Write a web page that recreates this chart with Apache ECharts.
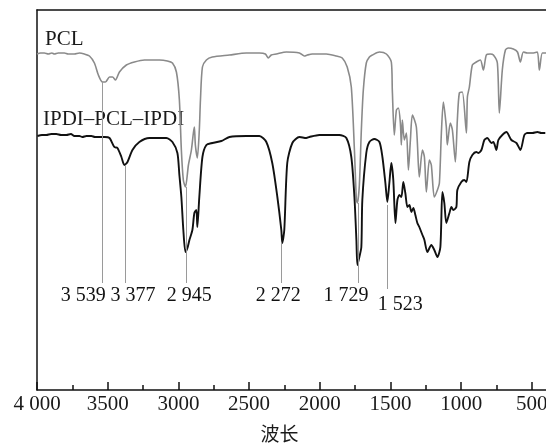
<!DOCTYPE html>
<html><head><meta charset="utf-8">
<script src="https://cdn.jsdelivr.net/npm/echarts@6/dist/echarts.min.js"></script>
<style>html,body{margin:0;padding:0;background:#fff}#c{width:546px;height:446px}</style>
</head><body><div id="c"></div>
<script>
// wavenumber (cm-1), relative transmittance (arbitrary units)
const pclSpectrum = [[4000,336],[3975,337],[3948,337],[3920,336],[3895,337],[3877,336],[3850,337],[3806,337],[3780,336],[3736,336],[3700,337],[3665,336],[3629,334],[3594,327],[3566,315],[3537,308],[3516,308],[3487,313],[3466,313],[3445,310],[3417,318],[3368,325],[3311,328],[3240,330],[3134,330],[3078,329],[3042,327],[3014,318],[2993,290],[2979,240],[2965,210],[2950,203],[2929,225],[2908,240],[2894,257],[2887,263],[2880,245],[2866,232],[2852,260],[2844,290],[2830,323],[2802,330],[2760,333],[2639,335],[2519,337],[2427,337],[2385,336],[2364,332],[2343,335],[2307,336],[2236,338],[2144,337],[2109,334],[2088,335],[2053,336],[1954,336],[1883,334],[1841,332],[1806,323],[1777,303],[1755,240],[1741,190],[1734,187],[1720,205],[1706,260],[1692,300],[1671,327],[1649,333],[1628,335],[1578,338],[1529,336],[1494,328],[1487,300],[1473,255],[1458,280],[1444,282],[1430,267],[1423,245],[1416,270],[1402,250],[1387,257],[1373,220],[1359,250],[1345,275],[1317,263],[1296,213],[1274,240],[1260,233],[1246,198],[1225,230],[1211,225],[1190,193],[1168,200],[1154,207],[1140,257],[1126,288],[1105,263],[1098,245],[1077,267],[1062,260],[1041,228],[1027,270],[1013,297],[992,298],[963,257],[956,293],[942,303],[921,325],[893,328],[864,330],[843,320],[822,335],[794,336],[772,335],[744,327],[730,277],[709,320],[687,340],[666,342],[631,341],[602,338],[581,328],[560,338],[532,337],[489,337],[461,338],[447,320],[426,337],[400,337]];

const ipdiSpectrum = [[3997,254],[3965,255],[3934,255],[3900,256],[3863,256],[3830,255],[3792,255],[3760,256],[3736,254],[3700,254],[3679,253],[3650,254],[3615,254],[3590,253],[3559,253],[3520,253],[3487,252],[3453,243],[3431,242],[3403,233],[3382,225],[3360,228],[3325,240],[3276,248],[3205,252],[3085,252],[3042,248],[3007,237],[2993,215],[2979,193],[2965,160],[2950,138],[2936,142],[2922,150],[2901,160],[2887,177],[2873,180],[2866,163],[2852,193],[2830,233],[2802,245],[2760,247],[2696,249],[2639,253],[2519,254],[2427,254],[2378,248],[2336,227],[2300,193],[2272,160],[2265,147],[2251,160],[2230,227],[2194,247],[2144,253],[2095,252],[2074,253],[2003,255],[1862,255],[1812,252],[1777,233],[1755,193],[1741,150],[1734,125],[1720,133],[1706,143],[1699,190],[1671,237],[1649,248],[1614,251],[1578,248],[1557,233],[1536,207],[1522,188],[1508,207],[1494,227],[1480,210],[1465,167],[1451,190],[1437,195],[1423,193],[1409,208],[1395,197],[1380,183],[1366,185],[1352,178],[1338,182],[1324,175],[1310,167],[1296,163],[1274,155],[1260,150],[1239,138],[1211,145],[1190,140],[1168,133],[1147,143],[1133,198],[1119,187],[1105,167],[1083,177],[1069,183],[1055,180],[1034,183],[1027,200],[999,208],[978,210],[963,208],[942,228],[921,235],[893,238],[878,237],[857,240],[836,250],[815,252],[786,247],[772,248],[751,240],[737,250],[709,255],[680,258],[645,250],[609,247],[581,240],[553,255],[532,257],[496,257],[461,258],[433,257],[405,257]];

const seriesNames = ['PCL', 'IPDI–PCL–IPDI'];
const peakWavenumbers = [3539, 3377, 2945, 2272, 1729, 1523];
const peakLabels = ['3 539', '3 377', '2 945', '2 272', '1 729', '1 523'];
const peakLineTop = [308, 225, 203, 147, 187, 185];
const peakLineBottom = [107, 107, 107, 107, 107, 101];
const peakLabelLevel = [94, 94, 94, 94, 94, 85];
const xTickValues = [4000, 3500, 3000, 2500, 2000, 1500, 1000, 500];
const xTickLabels = ['4 000', '3500', '3000', '2500', '2000', '1500', '1000', '500'];
const xMinorTickValues = [3750, 3250, 2750, 2250, 1750, 1250, 750];

const SERIF = '"Liberation Serif","Times New Roman","Noto Sans CJK SC",serif';
const labelDx = [-19, 8, 3, -3, -12, 13];

const chart = echarts.init(document.getElementById('c'), null, {renderer: 'canvas'});
const baseX = {type: 'value', min: 400, max: 4000, inverse: true, gridIndex: 0, splitLine: {show: false}};
chart.setOption({
  animation: false,
  backgroundColor: '#fff',
  grid: {left: 37, right: 0, top: 10, bottom: 56, containLabel: false, outerBoundsMode: 'none'},
  xAxis: [
    Object.assign({}, baseX, {
      position: 'bottom',
      axisLine: {show: true, lineStyle: {color: '#111', width: 1.5}},
      axisTick: {show: true, inside: true, length: 8, customValues: xTickValues, lineStyle: {color: '#111', width: 1.5}},
      axisLabel: {show: true, customValues: xTickValues, margin: 4, fontSize: 21, color: '#1a1a1a', fontFamily: SERIF,
        formatter: v => xTickLabels[xTickValues.indexOf(v)]},
      name: '波长', nameLocation: 'middle', nameGap: 37,
      nameTextStyle: {fontSize: 19, color: '#1a1a1a', fontFamily: SERIF, padding: [0, 24, 0, 0]}
    }),
    Object.assign({}, baseX, {
      position: 'bottom',
      axisLine: {show: false},
      axisTick: {show: true, inside: true, length: 5, customValues: xMinorTickValues, lineStyle: {color: '#111', width: 1.5}},
      axisLabel: {show: false}
    }),
    Object.assign({}, baseX, {
      position: 'top',
      axisLine: {show: true, lineStyle: {color: '#111', width: 1.5}},
      axisTick: {show: false}, axisLabel: {show: false}
    })
  ],
  yAxis: {type: 'value', min: 0, max: 380, axisLine: {show: true, lineStyle: {color: '#111', width: 1.5}},
    axisTick: {show: false}, axisLabel: {show: false}, splitLine: {show: false}},
  graphic: [
    {type: 'text', left: 45, top: 29, style: {text: seriesNames[0], fontSize: 21, fill: '#1a1a1a', fontFamily: SERIF}},
    {type: 'text', left: 43, top: 109, style: {text: seriesNames[1], fontSize: 21, fill: '#1a1a1a', fontFamily: SERIF}}
  ],
  series: [
    {type: 'line', name: 'peaks', data: [], z: 1, silent: true,
      markLine: {silent: true, symbol: 'none', label: {show: false}, animation: false,
        lineStyle: {color: '#9a9a9a', width: 1, type: 'solid'},
        data: peakWavenumbers.map((w, i) => [{coord: [w, peakLineTop[i]]}, {coord: [w, peakLineBottom[i]]}])}},
    {type: 'line', name: seriesNames[0], data: pclSpectrum, symbol: 'none', smooth: 0.25, z: 3,
      lineStyle: {color: '#8a8a8a', width: 1.6}},
    {type: 'line', name: seriesNames[1], data: ipdiSpectrum, symbol: 'none', smooth: 0.25, z: 4,
      lineStyle: {color: '#111', width: 1.9}},
    {type: 'scatter', name: 'peakLabels', symbolSize: 0.1, itemStyle: {color: '#fff', opacity: 1}, z: 5, silent: true,
      emphasis: {disabled: true},
      data: peakWavenumbers.map((w, i) => ({value: [w, peakLabelLevel[i]],
        label: {show: true, position: 'inside', offset: [labelDx[i], 0], formatter: peakLabels[i],
          fontSize: 20, color: '#111', opacity: 1, textBorderWidth: 0, fontFamily: SERIF}}))}
  ]
});
</script></body></html>
